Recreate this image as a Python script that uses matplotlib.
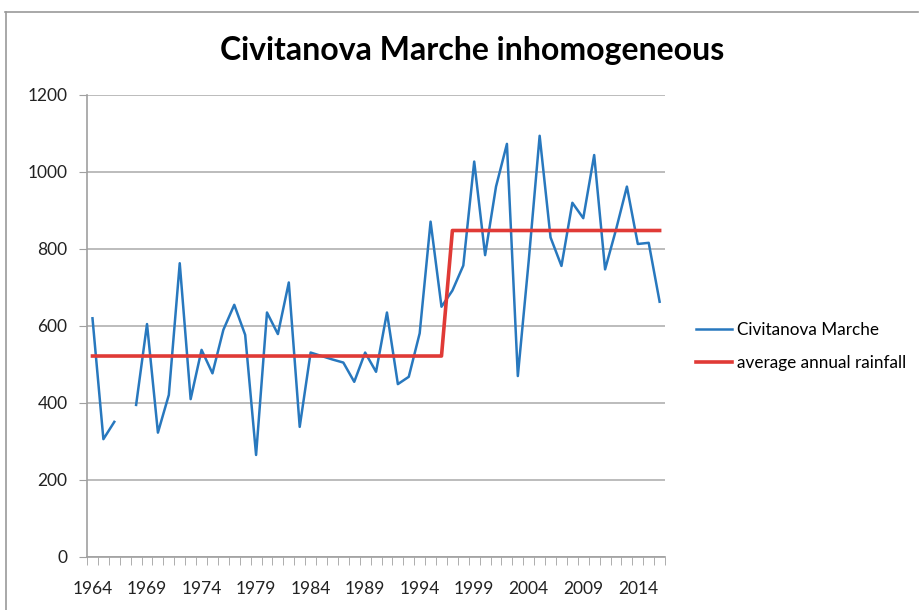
import numpy as np
import matplotlib
matplotlib.use("Agg")
import matplotlib.pyplot as plt
from matplotlib.lines import Line2D

# yearly rainfall, 1967 missing
years = list(range(1964, 2017))
rain = [620, 306, 351, np.nan, 395, 605, 323, 421, 763, 410,
        538, 477, 590, 655, 577, 265, 635, 579, 713, 338,
        531, 522, 513, 505, 455, 531, 481, 635, 449, 468,
        581, 871, 650, 692, 757, 1027, 784, 962, 1073, 470,
        770, 1094, 830, 756, 920, 880, 1044, 747, 850, 962,
        813, 816, 663]
avg_levels = [522, 848]
break_year = 1997

avg = [avg_levels[0] if y < break_year else avg_levels[1] for y in years]
x = np.arange(len(years))

plt.rcParams['font.family'] = ['Lato', 'DejaVu Sans']

fig = plt.figure(figsize=(9.2, 6.1), dpi=100)
ax = fig.add_axes([0.0946, 0.0869, 0.6283, 0.7574])

ax.plot(x, rain, color='#2878be', lw=1.8, label='Civitanova Marche')
ax.plot(x, avg, color='#e03a36', lw=2.6, label='average annual rainfall')

ax.set_xlim(-0.5, len(years) - 0.5)
ax.set_ylim(0, 1200)
ax.set_yticks(range(0, 1201, 200))
ax.yaxis.grid(True, color='#b0b0b0', lw=1.2)
ax.set_axisbelow(True)

ax.set_xticks(x[::5])
ax.set_xticklabels([str(y) for y in years[::5]])
ax.set_xticks(np.arange(-0.5, len(years), 1), minor=True)
ax.tick_params(axis='x', which='major', length=0, pad=17, labelsize=12.5, colors='#222222')
ax.tick_params(axis='x', which='minor', length=6, color='#a0a0a0', direction='out')
ax.tick_params(axis='y', length=6, pad=8, labelsize=12.5, labelcolor='#222222', color='#a0a0a0')

for side in ['top', 'right']:
    ax.spines[side].set_visible(False)
ax.spines['left'].set_color('#a0a0a0')
ax.spines['bottom'].set_color('#a0a0a0')
ax.spines['left'].set_linewidth(1.2)
ax.spines['bottom'].set_linewidth(1.2)

fig.text(0.513, 0.918, 'Civitanova Marche inhomogeneous', ha='center', va='center',
         fontsize=23, fontweight='bold', color='black')

ax.legend(loc='center left', bbox_to_anchor=(0.757, 0.432), bbox_transform=fig.transFigure,
          frameon=False, fontsize=12.3, handlelength=2.1, handletextpad=0.25, labelspacing=1.05,
          borderpad=0, borderaxespad=0)

# chart border
fig.add_artist(Line2D([0.005, 0.998], [0.98, 0.98], color='#9a9a9a', lw=1.2))
fig.add_artist(Line2D([0.006, 0.006], [0.0, 0.98], color='#9a9a9a', lw=1.2))

fig.savefig('out.png', dpi=100)
